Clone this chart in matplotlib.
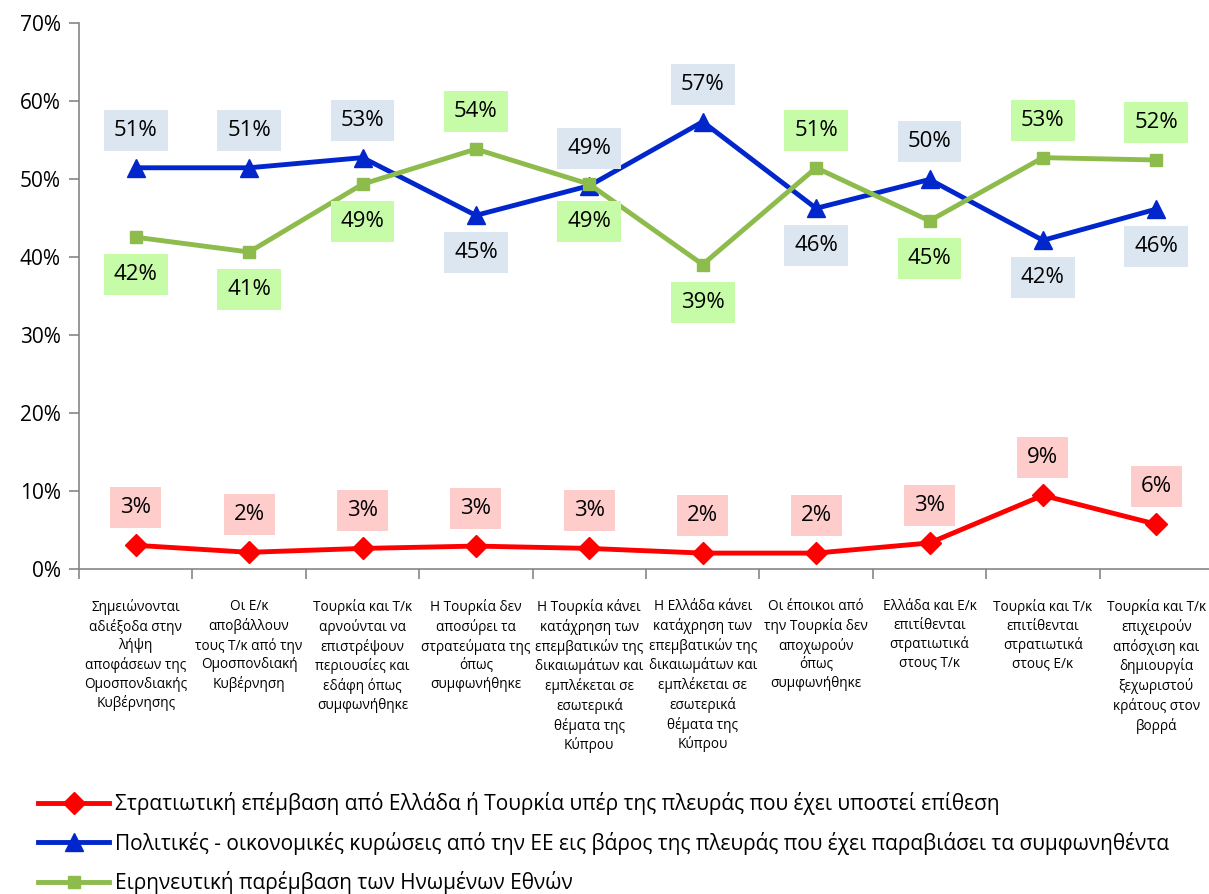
import numpy as np
import matplotlib
matplotlib.use('Agg')
import matplotlib.pyplot as plt
from matplotlib.ticker import FixedLocator, PercentFormatter

plt.rcParams['font.family'] = ['Open Sans', 'DejaVu Sans']

categories = [
    'Σημειώνονται\nαδιέξοδα στην\nλήψη\nαποφάσεων της\nΟμοσπονδιακής\nΚυβέρνησης',
    'Οι Ε/κ\nαποβάλλουν\nτους Τ/κ από την\nΟμοσπονδιακή\nΚυβέρνηση',
    'Τουρκία και Τ/κ\nαρνούνται να\nεπιστρέψουν\nπεριουσίες και\nεδάφη όπως\nσυμφωνήθηκε',
    'Η Τουρκία δεν\nαποσύρει τα\nστρατεύματα της\nόπως\nσυμφωνήθηκε',
    'Η Τουρκία κάνει\nκατάχρηση των\nεπεμβατικών της\nδικαιωμάτων και\nεμπλέκεται σε\nεσωτερικά\nθέματα της\nΚύπρου',
    'Η Ελλάδα κάνει\nκατάχρηση των\nεπεμβατικών της\nδικαιωμάτων και\nεμπλέκεται σε\nεσωτερικά\nθέματα της\nΚύπρου',
    'Οι έποικοι από\nτην Τουρκία δεν\nαποχωρούν\nόπως\nσυμφωνήθηκε',
    'Ελλάδα και Ε/κ\nεπιτίθενται\nστρατιωτικά\nστους Τ/κ',
    'Τουρκία και Τ/κ\nεπιτίθενται\nστρατιωτικά\nστους Ε/κ',
    'Τουρκία και Τ/κ\nεπιχειρούν\nαπόσχιση και\nδημιουργία\nξεχωριστού\nκράτους στον\nβορρά',
]

red_name = 'Στρατιωτική επέμβαση από Ελλάδα ή Τουρκία υπέρ της πλευράς που έχει υποστεί επίθεση'
blue_name = 'Πολιτικές - οικονομικές κυρώσεις από την ΕΕ εις βάρος της πλευράς που έχει παραβιάσει τα συμφωνηθέντα'
green_name = 'Ειρηνευτική παρέμβαση των Ηνωμένων Εθνών'

red_vals = [3.0, 2.1, 2.6, 2.9, 2.6, 2.0, 2.0, 3.3, 9.4, 5.7]
blue_vals = [51.4, 51.4, 52.7, 45.3, 49.1, 57.3, 46.2, 49.9, 42.1, 46.1]
green_vals = [42.5, 40.6, 49.3, 53.8, 49.3, 39.0, 51.4, 44.6, 52.7, 52.4]

# +1 label above the point, -1 below
blue_side = [1, 1, 1, -1, 1, 1, -1, 1, -1, -1]
green_side = [-1, -1, -1, 1, -1, -1, 1, -1, 1, 1]
red_side = [1] * 10

#=============================================================================#
fig = plt.figure(figsize=(12.09, 8.94), dpi=100)
ax = fig.add_axes([79 / 1209, 1 - 568.7 / 894, 1134 / 1209, (568.7 - 22.7) / 894])

x = np.arange(len(categories))

series = [
    (red_vals, red_side, '#FF0000', 'D', 11, '#FFCCCC', red_name),
    (blue_vals, blue_side, '#0026CC', '^', 13, '#DCE6F1', blue_name),
    (green_vals, green_side, '#8DBB4C', 's', 9, '#C6FCA8', green_name),
]

handles = []
for vals, side, col, mk, ms, bg, name in series:
    h, = ax.plot(x, vals, color=col, lw=3.5, marker=mk, markersize=ms,
                 markeredgecolor=col, label=name)
    handles.append(h)
    for xi, v, s in zip(x, vals, side):
        ax.annotate('%d%%' % int(round(v)), (xi, v), xytext=(0, 27 * s),
                    textcoords='offset points', ha='center', va='center',
                    fontsize=16, color='black',
                    bbox=dict(boxstyle='square,pad=0.45', fc=bg, ec='none'))

ax.set_xlim(-0.5, len(categories) - 0.5)
ax.set_ylim(0, 70)
ax.yaxis.set_major_locator(FixedLocator(np.arange(0, 71, 10)))
ax.yaxis.set_major_formatter(PercentFormatter(decimals=0))
ax.set_xticks(x)
ax.set_xticklabels(categories, fontsize=9.8, linespacing=1.31, va='top')
ax.xaxis.set_minor_locator(FixedLocator(np.arange(-0.5, len(categories), 1)))
ax.tick_params(axis='x', which='major', length=0, pad=22)
ax.tick_params(axis='x', which='minor', length=7, color='#868686', width=1.2)
ax.tick_params(axis='y', length=7, color='#868686', width=1.2, labelsize=15, pad=6)

for sp in ['top', 'right']:
    ax.spines[sp].set_visible(False)
for sp in ['left', 'bottom']:
    ax.spines[sp].set_color('#868686')
    ax.spines[sp].set_linewidth(1.2)

fig.legend(handles=handles, loc='upper left', bbox_to_anchor=(30 / 1209, 1 - 784 / 894),
           frameon=False, fontsize=15, handlelength=3.4, handletextpad=0.3,
           labelspacing=0.78, borderaxespad=0)

fig.savefig('out.png', dpi=100)
